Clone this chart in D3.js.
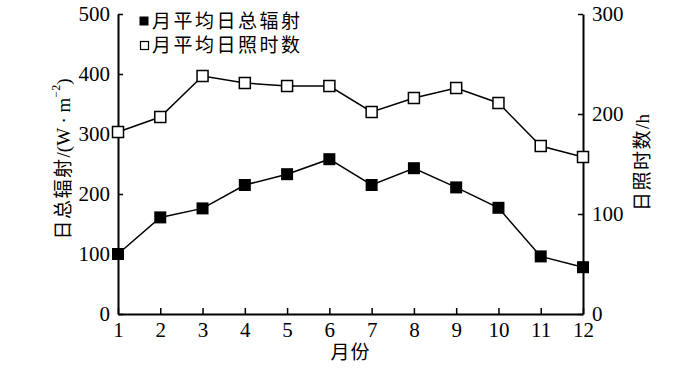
<!DOCTYPE html>
<html>
<head>
<meta charset="utf-8">
<script src="https://cdn.jsdelivr.net/npm/d3@7"></script>
<style>
  html, body { margin: 0; padding: 0; background: #fff; }
  svg text { font-family: "Liberation Serif", "Noto Sans CJK SC", serif; fill: #000; }
</style>
</head>
<body>
<svg id="chart" width="700" height="370"></svg>
<script>
const months = [1,2,3,4,5,6,7,8,9,10,11,12];
const radiation = [100, 161, 176, 215, 233, 258, 215, 243, 211, 177, 96, 78];
const sunshine = [182, 197, 238, 231, 228, 228, 202, 216, 226, 211, 168, 157];
const leftTicks = [0,100,200,300,400,500];
const rightTicks = [0,100,200,300];
const legendLabels = ["月平均日总辐射", "月平均日照时数"];
const xTitle = "月份";
const leftTitleCJK = "日总辐射";
const leftTitleUnit = "/(W · m";
const rightTitleCJK = "日照时数";
const rightTitleUnit = "/h";

const svg = d3.select("#chart");
const x = d3.scaleLinear().domain([1,12]).range([118,583]);
const yL = d3.scaleLinear().domain([0,500]).range([314,14]);
const yR = d3.scaleLinear().domain([0,300]).range([314,14]);

function styleAxis(g){
  g.selectAll("path.domain").attr("stroke","#000").attr("stroke-width",2);
  g.selectAll(".tick line").attr("stroke","#000").attr("stroke-width",1.5);
  g.selectAll(".tick text").attr("font-size",21).attr("font-family","Liberation Serif");
}

svg.append("g").attr("transform","translate(0,314)")
  .call(d3.axisBottom(x).tickValues(months).tickFormat(d3.format("d")).tickSize(-6).tickSizeOuter(0).tickPadding(8))
  .call(styleAxis);
svg.append("g").attr("transform","translate(118,0)")
  .call(d3.axisLeft(yL).tickValues(leftTicks).tickSize(-5).tickSizeOuter(0).tickPadding(8))
  .call(styleAxis);
svg.append("g").attr("transform","translate(583,0)")
  .call(d3.axisRight(yR).tickValues(rightTicks).tickSize(-5).tickSizeOuter(0).tickPadding(9))
  .call(styleAxis);

const lineL = d3.line().x((d,i)=>x(months[i])).y(d=>yL(d));
const lineR = d3.line().x((d,i)=>x(months[i])).y(d=>yR(d));

svg.append("path").datum(sunshine).attr("d",lineR).attr("fill","none").attr("stroke","#000").attr("stroke-width",1.5);
svg.append("path").datum(radiation).attr("d",lineL).attr("fill","none").attr("stroke","#000").attr("stroke-width",1.5);

const s = 11;
svg.selectAll("rect.sun").data(sunshine).enter().append("rect")
  .attr("x",(d,i)=>x(months[i])-s/2).attr("y",d=>yR(d)-s/2)
  .attr("width",s).attr("height",s).attr("fill","#fff").attr("stroke","#000").attr("stroke-width",1.5);
svg.selectAll("rect.rad").data(radiation).enter().append("rect")
  .attr("x",(d,i)=>x(months[i])-6).attr("y",d=>yL(d)-6)
  .attr("width",12).attr("height",12).attr("fill","#000");

// legend
svg.append("rect").attr("x",139.5).attr("y",16.5).attr("width",9).attr("height",9).attr("fill","#000");
svg.append("rect").attr("x",140.5).attr("y",41.5).attr("width",8).attr("height",8).attr("fill","#fff").attr("stroke","#000").attr("stroke-width",1.2);
legendLabels.forEach((t,i)=>{
  svg.append("text").attr("x",152).attr("y",[21,45.5][i]).attr("dy","0.36em")
    .attr("font-size",19).attr("letter-spacing","2.5px").text(t);
});

// axis titles
svg.append("text").attr("x",350.5).attr("y",352).attr("dy","0.36em").attr("text-anchor","middle")
  .attr("font-size",19).attr("letter-spacing","1px").text(xTitle);

const lt = svg.append("text").attr("transform","translate(63,159) rotate(-90)")
  .attr("text-anchor","middle").attr("dy","0.36em").attr("font-size",19);
lt.append("tspan").attr("letter-spacing","1.5px").text(leftTitleCJK);
lt.append("tspan").text(leftTitleUnit);
lt.append("tspan").attr("font-size",12).attr("dy","-0.8em").text("−2");
lt.append("tspan").attr("dy","0.5em").text(")");

const rt = svg.append("text").attr("transform","translate(642,162.5) rotate(-90)")
  .attr("text-anchor","middle").attr("dy","0.36em").attr("font-size",19);
rt.append("tspan").attr("letter-spacing","1.5px").text(rightTitleCJK);
rt.append("tspan").text(rightTitleUnit);
</script>
</body>
</html>
